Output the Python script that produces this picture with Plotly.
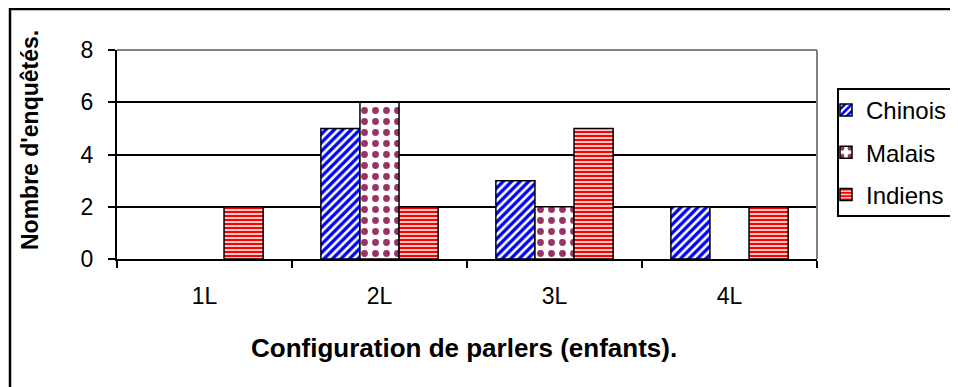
import plotly.graph_objects as go

categories = ["1L", "2L", "3L", "4L"]
chinois = [0, 5, 3, 2]
malais = [0, 6, 2, 0]
indiens = [2, 2, 5, 2]
y_ticks = [0, 2, 4, 6, 8]

FONT = "Liberation Sans, Arial, sans-serif"

# page has an 8px body margin; figure coordinates are offset accordingly
W, H = 950, 379
L, T = 109, 42           # plot area left / top in figure px
PW, PH = 700, 209        # plot area size


def px_x(x):
    return (x - 8 - L) / PW


def px_y(y):
    return (T + PH - (y - 8)) / PH


def nz(vals):
    return [v if v else None for v in vals]


fig = go.Figure()
fig.add_trace(go.Bar(
    name="Chinois", x=categories, y=nz(chinois), legendgroup="a",
    marker=dict(color="white", line=dict(color="black", width=1.5),
                pattern=dict(shape="/", fgcolor="#0000FF", bgcolor="white",
                             size=6, solidity=0.55, fgopacity=1)),
))
fig.add_trace(go.Bar(
    name="Malais", x=categories, y=nz(malais), legendgroup="b",
    marker=dict(color="white", line=dict(color="black", width=1.5),
                pattern=dict(shape=".", fgcolor="#993366", bgcolor="white",
                             size=11, solidity=0.3, fgopacity=1)),
))
fig.add_trace(go.Bar(
    name="Indiens", x=categories, y=nz(indiens), legendgroup="c",
    marker=dict(color="white", line=dict(color="black", width=1.5),
                pattern=dict(shape="-", fgcolor="#FF0000", bgcolor="white",
                             size=4, solidity=0.6, fgopacity=1)),
))

fig.update_layout(
    width=W, height=H,
    margin=dict(l=L, r=W - L - PW, t=T, b=H - T - PH, pad=0,
                autoexpand=False),
    paper_bgcolor="white", plot_bgcolor="white",
    font=dict(family=FONT, size=23, color="black"),
    barmode="group", bargap=0.33, bargroupgap=0,
    showlegend=True,
    legend=dict(x=px_x(826), y=px_y(88), xanchor="left", yanchor="top",
                borderwidth=0, bgcolor="rgba(0,0,0,0)",
                font=dict(size=24), tracegroupgap=8, entrywidth=110,
                itemwidth=30),
    xaxis=dict(type="category", tickson="boundaries", ticks="outside",
               ticklen=7, tickwidth=1.5, tickcolor="black",
               showline=True, linecolor="black", linewidth=2,
               showgrid=False, ticklabelstandoff=15, fixedrange=True),
    yaxis=dict(range=[0, 8], tickvals=y_ticks, ticks="outside", ticklen=7,
               tickwidth=1.5, tickcolor="black", showline=True,
               linecolor="black", linewidth=2, showgrid=True,
               gridcolor="black", gridwidth=1.5, zeroline=False,
               ticklabelstandoff=10, fixedrange=True),
    annotations=[
        dict(text="<b>Nombre d'enquêtés.</b>", xref="paper", yref="paper",
             x=px_x(30), y=px_y(140), textangle=-90, showarrow=False,
             font=dict(size=23), xanchor="center", yanchor="middle"),
        dict(text="<b>Configuration de parlers (enfants).</b>", xref="paper",
             yref="paper", x=px_x(464), y=px_y(348), showarrow=False,
             font=dict(size=26), xanchor="center", yanchor="middle"),
    ],
    shapes=[
        dict(type="line", xref="paper", yref="paper", x0=0, x1=1, y0=1, y1=1,
             line=dict(color="#808080", width=2), layer="above"),
        dict(type="line", xref="paper", yref="paper", x0=1, x1=1, y0=0, y1=1,
             line=dict(color="#808080", width=2), layer="above"),
        dict(type="rect", xref="paper", yref="paper",
             x0=px_x(838), x1=px_x(1000), y0=px_y(216), y1=px_y(89),
             line=dict(color="black", width=2), fillcolor="white",
             layer="below"),
        dict(type="rect", xref="paper", yref="paper",
             x0=px_x(10), x1=px_x(990),
             y0=px_y(420), y1=px_y(9),
             line=dict(color="black", width=2.5), layer="below"),
    ],
)

fig.write_html("out.html")
